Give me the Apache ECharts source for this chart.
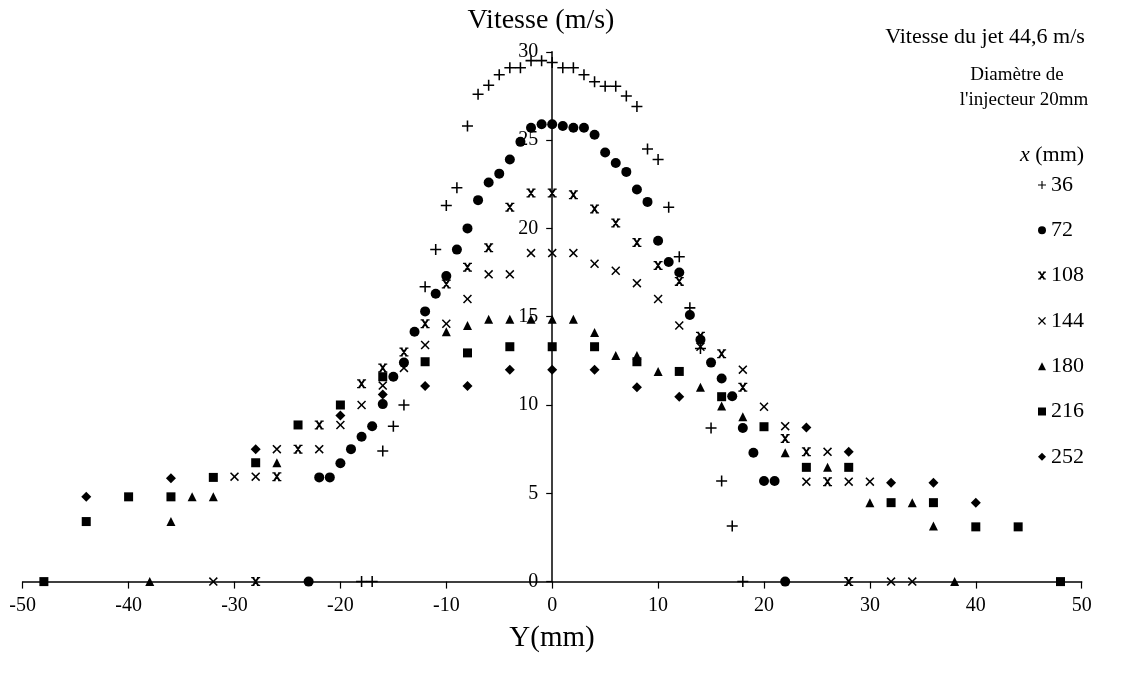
<!DOCTYPE html>
<html>
<head>
<meta charset="utf-8">
<script src="https://cdn.jsdelivr.net/npm/echarts@6/dist/echarts.min.js"></script>
<style>
html,body{margin:0;padding:0;background:#fff;}
#c{width:1124px;height:675px;}
</style>
</head>
<body>
<div id="c"></div>
<script>
// ---- data: Y position (mm) and velocity (m/s) for each x station ----
const legendNames = ['36', '72', '108', '144', '180', '216', '252'];
const xTicks = [-50, -40, -30, -20, -10, 0, 10, 20, 30, 40, 50];
const yTicks = [0, 5, 10, 15, 20, 25, 30];

const y36 = [-18, -17, -16, -15, -14, -12, -11, -10, -9, -8, -7, -6, -5, -4, -3, -2, -1, 0, 1, 2, 3, 4, 5, 6, 7, 8, 9, 10, 11, 12, 13, 14, 15, 16, 17, 18];
const v36 = [0, 0, 7.4, 8.8, 10.0, 16.7, 18.8, 21.3, 22.3, 25.8, 27.6, 28.1, 28.7, 29.1, 29.1, 29.5, 29.5, 29.4, 29.1, 29.1, 28.7, 28.3, 28.05, 28.05, 27.5, 26.9, 24.5, 23.9, 21.2, 18.4, 15.5, 13.2, 8.7, 5.7, 3.15, 0];

const y72 = [-23, -22, -21, -20, -19, -18, -17, -16, -15, -14, -13, -12, -11, -10, -9, -8, -7, -6, -5, -4, -3, -2, -1, 0, 1, 2, 3, 4, 5, 6, 7, 8, 9, 10, 11, 12, 13, 14, 15, 16, 17, 18, 19, 20, 21, 22];
const v72 = [0, 5.9, 5.9, 6.7, 7.5, 8.2, 8.8, 10.05, 11.6, 12.4, 14.15, 15.3, 16.3, 17.3, 18.8, 20.0, 21.6, 22.6, 23.1, 23.9, 24.9, 25.7, 25.9, 25.9, 25.8, 25.7, 25.7, 25.3, 24.3, 23.7, 23.2, 22.2, 21.5, 19.3, 18.1, 17.5, 15.1, 13.7, 12.4, 11.5, 10.5, 8.7, 7.3, 5.7, 5.7, 0];

const y108 = [-28, -26, -24, -22, -18, -16, -14, -12, -10, -8, -6, -4, -2, 0, 2, 4, 6, 8, 10, 12, 14, 16, 18, 22, 24, 26, 28];
const v108 = [0, 5.94, 7.5, 8.87, 11.2, 12.1, 13.0, 14.6, 16.85, 17.8, 18.9, 21.2, 22.0, 22.0, 21.9, 21.1, 20.3, 19.2, 17.9, 17.0, 13.9, 12.9, 11.0, 8.1, 7.35, 5.66, 0];

const y144 = [-32, -30, -28, -26, -22, -20, -18, -16, -14, -12, -10, -8, -6, -4, -2, 0, 2, 4, 6, 8, 10, 12, 14, 18, 20, 22, 24, 26, 28, 30, 32, 34];
const v144 = [0, 5.94, 5.94, 7.5, 7.5, 8.87, 10.0, 11.1, 12.1, 13.4, 14.6, 16.0, 17.4, 17.4, 18.6, 18.6, 18.6, 18.0, 17.6, 16.9, 16.0, 14.5, 13.3, 12.0, 9.9, 8.8, 5.66, 7.35, 5.66, 5.66, 0, 0];

const y180 = [-38, -36, -34, -32, -26, -10, -8, -6, -4, -2, 0, 2, 4, 6, 8, 10, 14, 16, 18, 22, 26, 30, 34, 36, 38];
const v180 = [0, 3.4, 4.8, 4.8, 6.73, 14.15, 14.5, 14.85, 14.85, 14.85, 14.85, 14.85, 14.1, 12.8, 12.8, 11.9, 11.0, 9.95, 9.33, 7.3, 6.47, 4.47, 4.47, 3.15, 0];

const y216 = [-48, -44, -40, -36, -32, -28, -24, -20, -16, -12, -8, -4, 0, 4, 8, 12, 16, 20, 24, 28, 32, 36, 40, 44, 48];
const v216 = [0, 3.4, 4.8, 4.8, 5.9, 6.73, 8.87, 10.0, 11.6, 12.45, 12.95, 13.3, 13.3, 13.3, 12.45, 11.9, 10.47, 8.77, 6.47, 6.47, 4.47, 4.47, 3.1, 3.1, 0];

const y252 = [-44, -36, -28, -20, -16, -12, -8, -4, 0, 4, 8, 12, 24, 28, 32, 36, 40];
const v252 = [4.8, 5.85, 7.5, 9.4, 10.6, 11.07, 11.07, 12.0, 12.0, 12.0, 11.0, 10.47, 8.72, 7.35, 5.6, 5.6, 4.47];

// ---- presentation ----
const FONT = '"Liberation Serif", "DejaVu Serif", serif';
const PLUS = 'path://M4.3,0H5.7V4.3H10V5.7H5.7V10H4.3V5.7H0V4.3H4.3Z';
const XTHIN = 'path://M0,1.2L1.2,0L5,3.8L8.8,0L10,1.2L6.2,5L10,8.8L8.8,10L5,6.2L1.2,10L0,8.8L3.8,5Z';
const XBOLD = 'path://M0,0H3.6V1.4H0Z M6.4,0H10V1.4H6.4Z M0,8.6H3.6V10H0Z M6.4,8.6H10V10H6.4Z M0.6,0.4L3.2,0.4L9.4,9.6L6.8,9.6Z M6.8,0.4L9.4,0.4L3.2,9.6L0.6,9.6Z';

const GRID_LEFT = 22.7, GRID_RIGHT = 42.3, CHART_W = 1124;
const X_MIN = xTicks[0], X_MAX = xTicks[xTicks.length - 1];
// put the vertical axis (line, ticks, labels) at Y = 0 mm
const plotW = CHART_W - GRID_LEFT - GRID_RIGHT;
const yAxisOffset = -plotW * (0 - X_MIN) / (X_MAX - X_MIN);

const zip = (a, b) => a.map((x, i) => [x, b[i]]);
const seriesDefs = [
  {name: legendNames[0], data: zip(y36, v36), symbol: PLUS, size: 11},
  {name: legendNames[1], data: zip(y72, v72), symbol: 'circle', size: 10},
  {name: legendNames[2], data: zip(y108, v108), symbol: XBOLD, size: 9},
  {name: legendNames[3], data: zip(y144, v144), symbol: XTHIN, size: 9},
  {name: legendNames[4], data: zip(y180, v180), symbol: 'triangle', size: 9},
  {name: legendNames[5], data: zip(y216, v216), symbol: 'rect', size: 9},
  {name: legendNames[6], data: zip(y252, v252), symbol: 'diamond', size: 10}
];

const chart = echarts.init(document.getElementById('c'), null, {renderer: 'canvas'});
const axisLineStyle = {color: '#000', width: 1.5};
chart.setOption({
  backgroundColor: '#fff',
  animation: false,
  grid: {left: GRID_LEFT, right: GRID_RIGHT, top: 51.8, bottom: 93.4, containLabel: false, outerBoundsMode: 'none'},
  xAxis: {
    type: 'value', min: X_MIN, max: X_MAX, interval: 10,
    axisLine: {show: true, onZero: false, lineStyle: axisLineStyle},
    axisTick: {show: true, inside: false, length: 7, lineStyle: {color: '#000', width: 1.2}},
    axisLabel: {color: '#000', fontFamily: FONT, fontSize: 20, margin: 14},
    splitLine: {show: false}
  },
  yAxis: {
    type: 'value', min: yTicks[0], max: yTicks[yTicks.length - 1], interval: 5,
    position: 'left', offset: yAxisOffset,
    axisLine: {show: true, onZero: false, lineStyle: axisLineStyle},
    axisTick: {show: true, inside: false, length: 6, lineStyle: {color: '#000', width: 1.2}},
    axisLabel: {color: '#000', fontFamily: FONT, fontSize: 20, margin: 14},
    splitLine: {show: false}
  },
  legend: {
    orient: 'vertical', left: 1033, top: 169,
    itemWidth: 8, itemHeight: 8, itemGap: 23.3,
    textStyle: {color: '#000', fontFamily: FONT, fontSize: 22, lineHeight: 22},
    data: legendNames
  },
  graphic: [
    {type: 'text', x: 541, y: 21, style: {text: 'Vitesse (m/s)', fontFamily: FONT, fontSize: 28, fill: '#000', align: 'center', verticalAlign: 'middle'}},
    {type: 'text', x: 552, y: 638, style: {text: 'Y(mm)', fontFamily: FONT, fontSize: 29, fill: '#000', align: 'center', verticalAlign: 'middle'}},
    {type: 'text', x: 985, y: 37, style: {text: 'Vitesse du jet 44,6 m/s', fontFamily: FONT, fontSize: 22, fill: '#000', align: 'center', verticalAlign: 'middle'}},
    {type: 'text', x: 1017, y: 75, style: {text: 'Diamètre de', fontFamily: FONT, fontSize: 19, fill: '#000', align: 'center', verticalAlign: 'middle'}},
    {type: 'text', x: 1024, y: 100, style: {text: "l'injecteur 20mm", fontFamily: FONT, fontSize: 19, fill: '#000', align: 'center', verticalAlign: 'middle'}},
    {type: 'text', x: 1052, y: 155, style: {text: '{i|x} (mm)', fontFamily: FONT, fontSize: 22, fill: '#000', align: 'center', verticalAlign: 'middle',
      rich: {i: {fontFamily: FONT, fontSize: 22, fontStyle: 'italic', fill: '#000'}}}}
  ],
  series: seriesDefs.map(s => ({
    type: 'scatter', name: s.name, data: s.data,
    symbol: s.symbol, symbolSize: s.size,
    itemStyle: {color: '#000', opacity: 1},
    emphasis: {disabled: true}
  }))
});
</script>
</body>
</html>
